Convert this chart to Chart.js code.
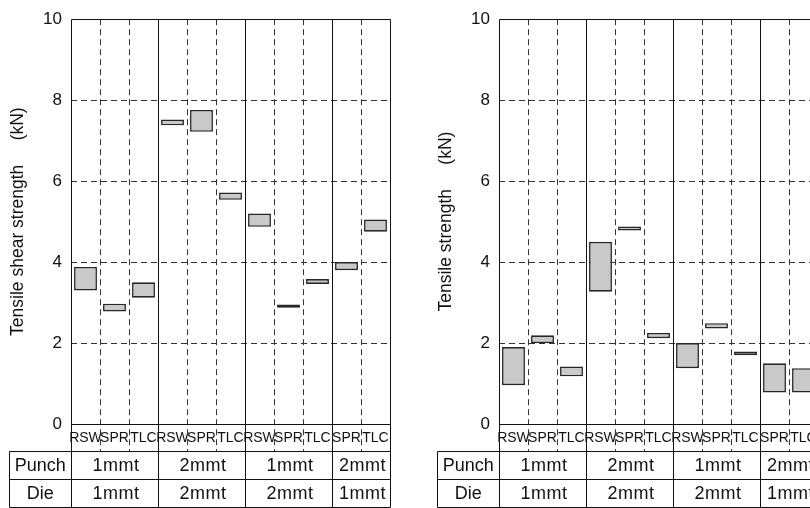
<!DOCTYPE html>
<html>
<head>
<meta charset="utf-8">
<script src="https://cdn.jsdelivr.net/npm/chart.js@4/dist/chart.umd.min.js"></script>
<style>
html, body { margin: 0; padding: 0; background: #fff; width: 810px; height: 508px; overflow: hidden; }
.panel { position: absolute; top: 0; width: 405px; height: 508px; }
#shearPanel { left: 0; }
#tensilePanel { left: 428px; }
</style>
</head>
<body>
<div class="panel" id="shearPanel"><canvas id="ShearChart" width="405" height="508"></canvas></div>
<div class="panel" id="tensilePanel"><canvas id="TensileChart" width="405" height="508"></canvas></div>
<script>
var joints = ["RSW", "SPR", "TLC", "RSW", "SPR", "TLC", "RSW", "SPR", "TLC", "SPR", "TLC"];
var groupSizes = [3, 3, 3, 2];
var punchThickness = ["1mmt", "2mmt", "1mmt", "2mmt"];
var dieThickness = ["1mmt", "2mmt", "2mmt", "1mmt"];
var yTicks = [0, 2, 4, 6, 8, 10];

// shear strength range per joint (kN)
var shearLow  = [3.30, 2.78, 3.12, 7.38, 7.22, 5.54, 4.87, 2.87, 3.46, 3.80, 4.75];
var shearHigh = [3.88, 2.97, 3.50, 7.52, 7.76, 5.72, 5.20, 2.95, 3.58, 4.00, 5.05];

// cross tension strength range per joint (kN)
var tensileLow  = [0.96, 2.00, 1.18, 3.27, 4.78, 2.12, 1.38, 2.36, 1.70, 0.78, 0.78];
var tensileHigh = [1.90, 2.19, 1.42, 4.50, 4.88, 2.25, 2.00, 2.49, 1.79, 1.50, 1.38];

var TEXT_FONT = "'Liberation Sans', Arial, sans-serif";
var ROW_HEIGHTS = [27, 28, 28];   // joint row, punch row, die row
var TABLE_LEFT = 9;

function colEdge(xs, i) {
    var step = xs.getPixelForValue(1) - xs.getPixelForValue(0);
    return Math.round(xs.getPixelForValue(i) - step / 2) + 0.5;
}

function line(ctx, x1, y1, x2, y2) {
    ctx.beginPath();
    ctx.moveTo(x1, y1);
    ctx.lineTo(x2, y2);
    ctx.stroke();
}

var gridTable = {
    id: 'gridTable',
    beforeDatasetsDraw: function (chart) {
        var ctx = chart.ctx, a = chart.chartArea;
        var xs = chart.scales.x, ys = chart.scales.y;
        var jointBottom = a.bottom + ROW_HEIGHTS[0];
        var bounds = [0];
        groupSizes.forEach(function (n) { bounds.push(bounds[bounds.length - 1] + n); });
        ctx.save();
        ctx.strokeStyle = '#333';
        ctx.lineWidth = 1;
        ctx.setLineDash([6, 4]);
        yTicks.forEach(function (v) {
            if (v === ys.min || v === ys.max) return;
            var y = Math.round(ys.getPixelForValue(v)) + 0.5;
            line(ctx, a.left, y, a.right, y);
        });
        for (var i = 1; i < joints.length; i++) {
            if (bounds.indexOf(i) >= 0) continue;
            var x = colEdge(xs, i);
            line(ctx, x, a.top, x, jointBottom);
        }
        ctx.restore();
    },
    afterDraw: function (chart) {
        var ctx = chart.ctx, a = chart.chartArea;
        var xs = chart.scales.x;
        var top = Math.round(a.top) + 0.5;
        var rows = [Math.round(a.bottom) + 0.5];
        ROW_HEIGHTS.forEach(function (h) { rows.push(rows[rows.length - 1] + h); });
        var bottom = rows[rows.length - 1];
        var bounds = [0];
        groupSizes.forEach(function (n) { bounds.push(bounds[bounds.length - 1] + n); });

        ctx.save();
        ctx.strokeStyle = '#111';
        ctx.lineWidth = 1;
        // frame, group dividers and table rows
        line(ctx, colEdge(xs, 0), top, colEdge(xs, joints.length), top);
        line(ctx, colEdge(xs, 0), rows[0], colEdge(xs, joints.length), rows[0]);
        for (var r = 1; r < rows.length; r++) {
            line(ctx, TABLE_LEFT + 0.5, rows[r], colEdge(xs, joints.length), rows[r]);
        }
        line(ctx, TABLE_LEFT + 0.5, rows[1], TABLE_LEFT + 0.5, bottom);
        bounds.forEach(function (b) {
            var x = colEdge(xs, b);
            line(ctx, x, top, x, bottom);
        });

        // row captions and thickness cells
        ctx.fillStyle = '#111';
        ctx.font = '18px ' + TEXT_FONT;
        ctx.textAlign = 'center';
        ctx.textBaseline = 'middle';
        var captionX = (TABLE_LEFT + colEdge(xs, 0)) / 2;
        var punchY = (rows[1] + rows[2]) / 2 + 1;
        var dieY = (rows[2] + rows[3]) / 2 + 1;
        ctx.fillText('Punch', captionX, punchY);
        ctx.fillText('Die', captionX, dieY);
        ctx.letterSpacing = '0.5px';
        for (var g = 0; g < groupSizes.length; g++) {
            var cx = (colEdge(xs, bounds[g]) + colEdge(xs, bounds[g + 1])) / 2 + 1;
            ctx.fillText(punchThickness[g], cx, punchY);
            ctx.fillText(dieThickness[g], cx, dieY);
        }
        ctx.restore();
    }
};

function createChart(canvasId, titleText, low, high) {
    var canvasObj = document.getElementById(canvasId).getContext('2d');
    return new Chart(canvasObj, {
        type: 'bar',
        data: {
            labels: joints,
            datasets: [{
                data: low.map(function (v, i) { return [v, high[i]]; }),
                backgroundColor: '#c9c9c9',
                borderColor: '#262626',
                borderWidth: 1.6,
                borderSkipped: false,
                barPercentage: 1,
                categoryPercentage: 0.79
            }]
        },
        options: {
            responsive: false,
            animation: false,
            layout: { padding: { left: 0, top: 14, right: 15, bottom: 0 } },
            plugins: {
                legend: { display: false },
                tooltip: { enabled: false }
            },
            scales: {
                x: {
                    grid: { display: false, drawTicks: false },
                    border: { display: false },
                    ticks: {
                        autoSkip: false,
                        maxRotation: 0,
                        padding: 6,
                        color: '#111',
                        font: { family: "'Liberation Sans Narrow', " + TEXT_FONT, size: 14 }
                    },
                    afterFit: function (s) { s.height = 84; }
                },
                y: {
                    min: 0,
                    max: 10,
                    grid: { display: false, drawTicks: false },
                    border: { display: false },
                    afterBuildTicks: function (s) {
                        s.ticks = yTicks.map(function (v) { return { value: v }; });
                    },
                    ticks: {
                        padding: 9,
                        color: '#111',
                        font: { family: TEXT_FONT, size: 17 }
                    },
                    title: {
                        display: true,
                        text: titleText,
                        color: '#111',
                        padding: { top: 8, bottom: 0 },
                        font: { family: TEXT_FONT, size: 17.5 }
                    },
                    afterFit: function (s) { s.width = 71; }
                }
            }
        },
        plugins: [gridTable]
    });
}

window.onload = function () {
    this.ShearChart = createChart('ShearChart', 'Tensile shear strength     (kN)', shearLow, shearHigh);
    this.TensileChart = createChart('TensileChart', 'Tensile strength     (kN)', tensileLow, tensileHigh);
};
</script>
</body>
</html>
